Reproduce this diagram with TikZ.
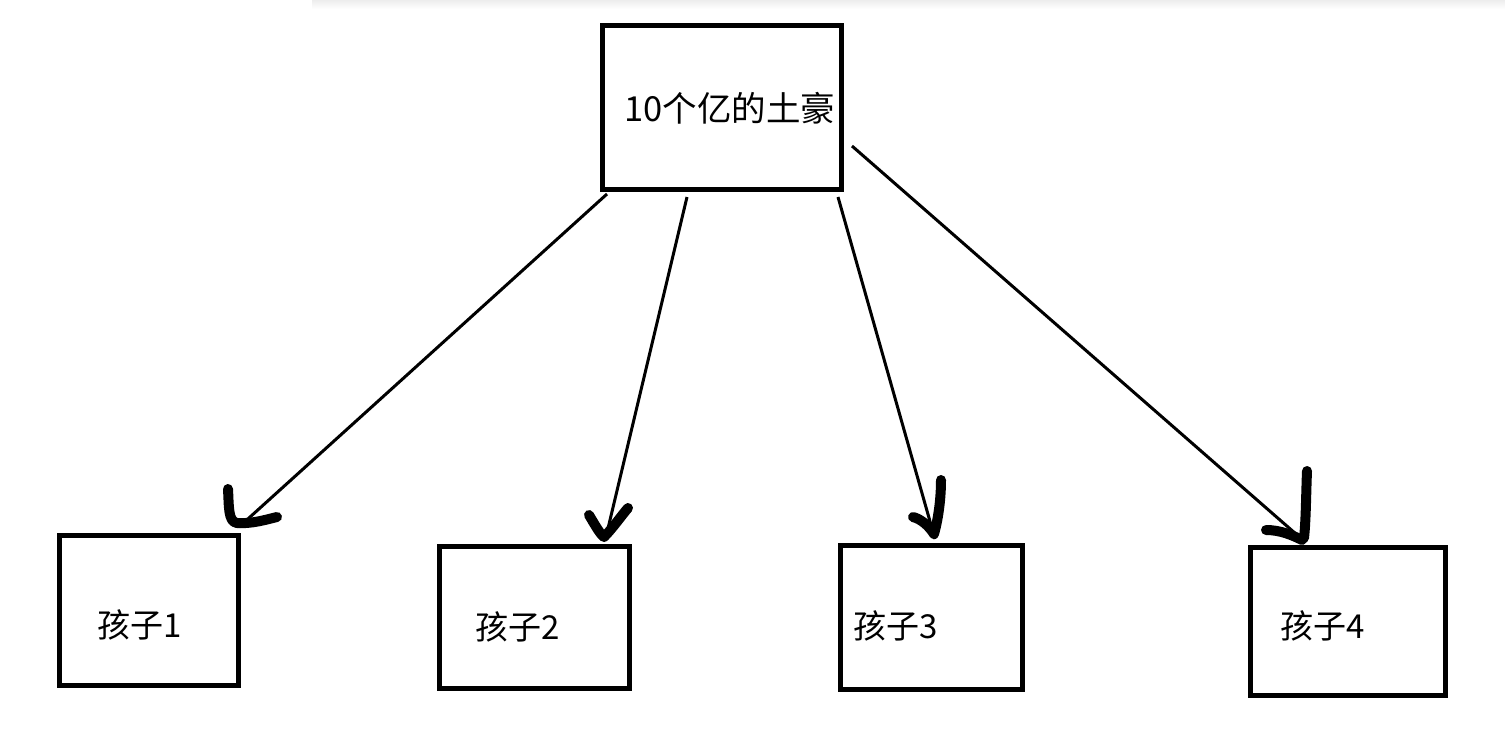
\documentclass[tikz,border=0pt]{standalone}
\usepackage{fontspec}
\newfontfamily\cjk{Noto Sans CJK SC}
\begin{document}
\begin{tikzpicture}[x=1pt,y=-1pt,
  box/.style={draw=black,line width=5pt,fill=white,inner sep=0pt},
  lbl/.style={anchor=west,inner sep=0pt,font=\cjk\fontsize{33}{40}\selectfont},
  conn/.style={draw=black,line width=3pt},
  hook/.style={draw=black,line width=10pt,line cap=round,line join=round}]
\useasboundingbox (0,0) rectangle (1505,753);
\fill[white] (0,0) rectangle (1505,753);
\shade[top color=black!7,bottom color=white] (312,0) rectangle (1505,9);
% boxes
\node[box,minimum width=238.5pt,minimum height=164pt] (top) at (721.75,107.5) {};
\node[box,minimum width=179.5pt,minimum height=149.5pt] (c1) at (148.75,610.25) {};
\node[box,minimum width=190pt,minimum height=142pt] (c2) at (534,617) {};
\node[box,minimum width=182pt,minimum height=144.5pt] (c3) at (931.5,617.25) {};
\node[box,minimum width=195pt,minimum height=148.5pt] (c4) at (1348,621.25) {};
% labels
\node[lbl,font=\cjk\fontsize{34.5}{40}\selectfont] (ttop) at (624,108) {10个亿的土豪};
\node[lbl] (t1) at (97,625) {孩子1};
\node[lbl] (t2) at (475,627) {孩子2};
\node[lbl] (t3) at (853,626) {孩子3};
\node[lbl] (t4) at (1280,626) {孩子4};
% connector end points
\coordinate (s1) at (607,194);
\coordinate (e1) at (239,527);
\coordinate (s2) at (687,197);
\coordinate (e2) at (605,541);
\coordinate (s3) at (838,197);
\coordinate (e3) at (935,539);
\coordinate (s4) at (852,146);
\coordinate (e4) at (1304,541);
\draw[conn] (s1) -- (e1);
\draw[conn] (s2) -- (e2);
\draw[conn] (s3) -- (e3);
\draw[conn] (s4) -- (e4);
% hand-drawn arrow heads
\draw[hook] (228,489) .. controls (229,506) and (228,522) .. (237,523) .. controls (251,524) and (265,520) .. (277,517);
\draw[hook] (589,515) .. controls (595,525) and (600,534) .. (604,537) .. controls (612,529) and (622,515) .. (628,508);
\draw[hook] (913,517) .. controls (921,519) and (929,526) .. (934,534) .. controls (938,520) and (941,500) .. (941,480);
\draw[hook] (1307,471) .. controls (1306,495) and (1306,520) .. (1304,538);
\draw[hook] (1266,530) .. controls (1280,530) and (1292,535) .. (1302,540);
\end{tikzpicture}
\end{document}
